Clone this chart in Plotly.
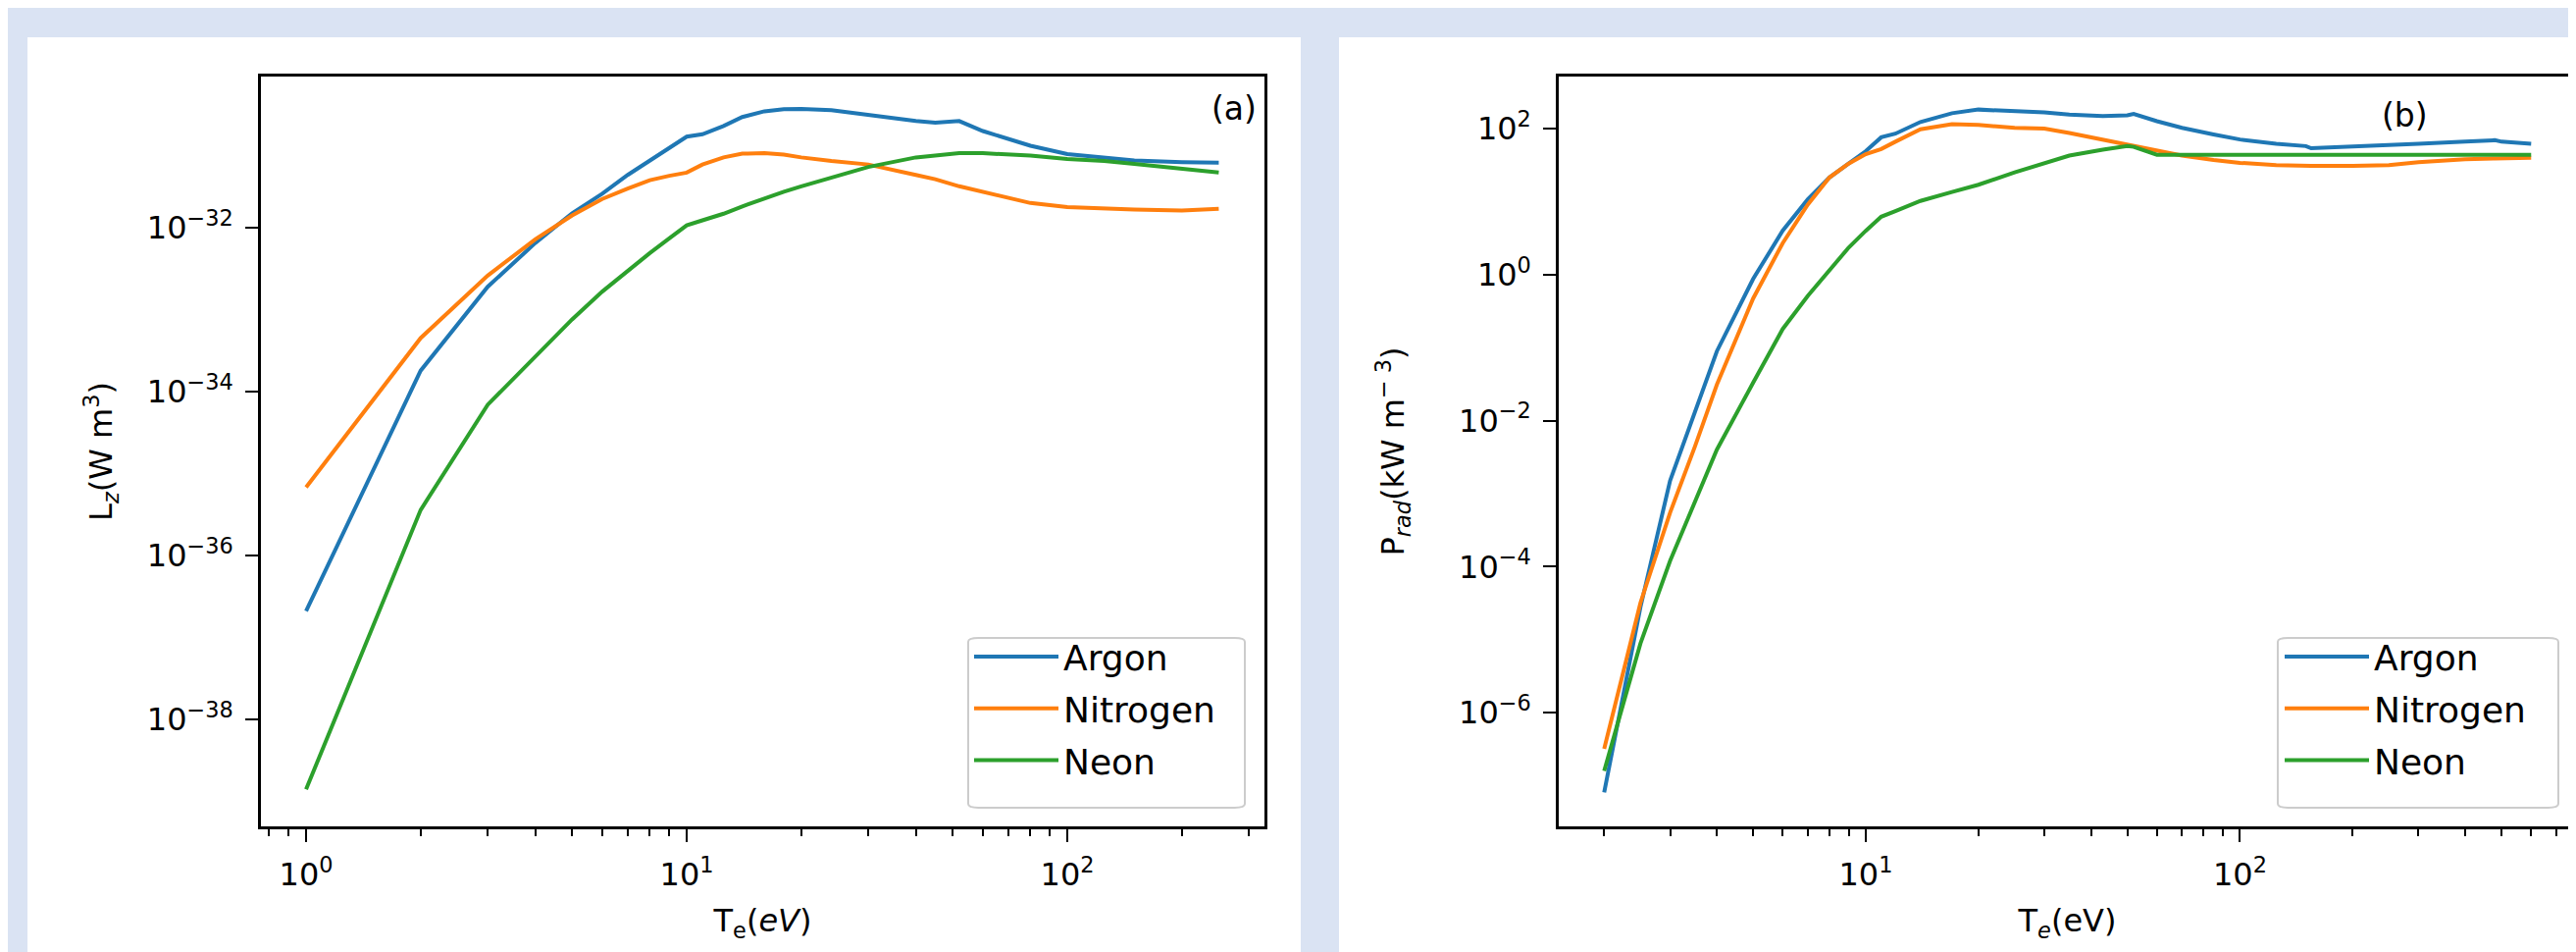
import plotly.graph_objects as go

# ---------------- data ----------------
te_a = [1, 2, 3, 4, 5, 6, 7, 8, 9, 10, 11, 12.5, 14, 16, 18, 20, 24, 30, 40, 45, 52,
        60, 70, 80, 100, 125, 150, 200, 250]
lz_argon = [2.1e-37, 1.8e-34, 1.9e-33, 6.5e-33, 1.5e-32, 2.6e-32, 4.4e-32, 6.6e-32, 9.3e-32,
            1.29e-31, 1.38e-31, 1.74e-31, 2.24e-31, 2.63e-31, 2.79e-31, 2.82e-31, 2.72e-31,
            2.37e-31, 2.0e-31, 1.91e-31, 2.0e-31, 1.51e-31, 1.2e-31, 1.0e-31, 7.9e-32,
            7.1e-32, 6.6e-32, 6.3e-32, 6.2e-32]
lz_nitrogen = [6.8e-36, 4.5e-34, 2.6e-33, 7.2e-33, 1.41e-32, 2.24e-32, 3.0e-32, 3.8e-32,
               4.3e-32, 4.7e-32, 5.9e-32, 7.2e-32, 8.0e-32, 8.1e-32, 7.8e-32, 7.2e-32,
               6.5e-32, 5.9e-32, 4.4e-32, 3.9e-32, 3.2e-32, 2.75e-32, 2.3e-32, 2.0e-32,
               1.78e-32, 1.7e-32, 1.66e-32, 1.62e-32, 1.7e-32]
lz_neon = [1.4e-39, 3.6e-36, 6.9e-35, 2.7e-34, 7.6e-34, 1.66e-33, 3.0e-33, 4.9e-33, 7.4e-33,
           1.07e-32, 1.23e-32, 1.48e-32, 1.82e-32, 2.29e-32, 2.75e-32, 3.2e-32, 4.1e-32,
           5.5e-32, 7.2e-32, 7.6e-32, 8.1e-32, 8.1e-32, 7.9e-32, 7.6e-32, 6.9e-32,
           6.5e-32, 6.0e-32, 5.2e-32, 4.7e-32]

te_b = [2, 2.5, 3, 3.5, 4, 5, 6, 7, 8, 9, 10, 11, 12, 14, 17, 20, 25, 30, 35, 43, 50, 52,
        60, 70, 85, 100, 125, 150, 155, 200, 250, 300, 400, 480, 500, 600]
prad_argon = [8.1e-08, 2.8e-05, 1.5e-03, 1.4e-02, 8.9e-02, 0.87, 4.0, 10.7, 21.4, 33.1,
              49.0, 75.9, 85.1, 123.0, 162.2, 182.0, 175.8, 166.0, 154.9, 147.9, 151.4,
              158.5, 125.9, 102.3, 83.2, 70.8, 61.7, 57.5, 53.7, 56.2, 58.9, 61.7, 66.1,
              69.2, 66.1, 61.7]
prad_nitrogen = [3.2e-07, 3.2e-05, 5.5e-04, 4.5e-03, 3.1e-02, 0.47, 2.7, 9.1, 21.4, 33.1,
                 44.7, 52.5, 66.1, 97.7, 114.8, 112.2, 102.3, 100.0, 87.1, 70.8, 61.7,
                 58.9, 50.1, 42.7, 37.2, 33.9, 31.6, 30.9, 30.9, 30.9, 31.6, 34.7, 38.0,
                 38.9, 38.9, 39.8]
prad_neon = [1.6e-07, 8.9e-06, 1.2e-04, 7.9e-04, 4.0e-03, 3.3e-02, 0.18, 0.51, 1.17, 2.34,
             3.98, 6.2, 7.4, 10.2, 13.5, 17.0, 25.1, 33.9, 42.7, 51.3, 57.5, 56.2,
             43.7, 43.7, 43.7, 43.7, 43.7, 43.7, 43.7, 43.7, 43.7, 43.7, 43.7, 43.7,
             43.7, 43.7]

series_names = ["Argon", "Nitrogen", "Neon"]
series_colors = ["#1f77b4", "#ff7f0e", "#2ca02c"]

xa_ticks = [1, 10, 100]
xa_ticktext = ["10<sup>0</sup>", "10<sup>1</sup>", "10<sup>2</sup>"]
xa_minor = [0.8, 0.9, 2, 3, 4, 5, 6, 7, 8, 9, 20, 30, 40, 50, 60, 70, 80, 90, 200, 300]
ya_ticks = [1e-38, 1e-36, 1e-34, 1e-32]
ya_ticktext = ["10<sup>\u221238</sup>", "10<sup>\u221236</sup>", "10<sup>\u221234</sup>",
               "10<sup>\u221232</sup>"]
xb_ticks = [10, 100]
xb_ticktext = ["10<sup>1</sup>", "10<sup>2</sup>"]
xb_minor = [2, 3, 4, 5, 6, 7, 8, 9, 20, 30, 40, 50, 60, 70, 80, 90, 200, 300, 400, 500,
            600, 700]
yb_ticks = [1e-6, 1e-4, 1e-2, 1, 100]
yb_ticktext = ["10<sup>\u22126</sup>", "10<sup>\u22124</sup>", "10<sup>\u22122</sup>",
               "10<sup>0</sup>", "10<sup>2</sup>"]

# ---------------- figure ----------------
W, H = 2626, 970
FONT = "DejaVu Sans"
FS = 32
LFS = 36


def px_x(v):
    return v / W


def px_y(v):
    return 1 - v / H


fig = go.Figure()

for name, color, ya in zip(series_names, series_colors, [lz_argon, lz_nitrogen, lz_neon]):
    fig.add_trace(go.Scatter(x=te_a, y=ya, mode="lines", name=name,
                             line=dict(color=color, width=4),
                             xaxis="x", yaxis="y", legend="legend", legendgroup="a" + name))
for name, color, yb in zip(series_names, series_colors, [prad_argon, prad_nitrogen, prad_neon]):
    fig.add_trace(go.Scatter(x=te_b, y=yb, mode="lines", name=name,
                             line=dict(color=color, width=4),
                             xaxis="x2", yaxis="y2", legend="legend2", legendgroup="b" + name))

common_axis = dict(type="log", showgrid=False, zeroline=False, showline=True, mirror=True,
                   linecolor="black", linewidth=2.5, ticks="outside", ticklen=13,
                   tickwidth=2.2, tickcolor="black",
                   tickfont=dict(family=FONT, size=FS, color="black"),
                   ticklabelstandoff=6)

minor_style = dict(ticks="outside", ticklen=7, tickwidth=1.8, tickcolor="black", showgrid=False)

legend_style = dict(xanchor="left", yanchor="top", bgcolor="rgba(0,0,0,0)", borderwidth=0,
                    font=dict(family=FONT, size=LFS, color="black"),
                    tracegroupgap=3, itemwidth=86)

fig.update_layout(
    width=W, height=H, autosize=False,
    margin=dict(l=0, r=0, t=0, b=0),
    paper_bgcolor="#dae3f3",
    plot_bgcolor="white",
    font=dict(family=FONT, size=FS, color="black"),
    xaxis=dict(common_axis, domain=[px_x(258), px_x(1281)], anchor="y",
               range=[-0.1186, 2.518], tickmode="array", tickvals=xa_ticks,
               ticktext=xa_ticktext,
               minor=dict(minor_style, tickmode="array", tickvals=xa_minor),
               title=dict(text="T<sub>e</sub>(<i>eV</i>)", font=dict(size=FS), standoff=18)),
    yaxis=dict(common_axis, domain=[px_y(834), px_y(70)], anchor="x",
               range=[-39.305, -30.156], tickmode="array", tickvals=ya_ticks,
               ticktext=ya_ticktext,
               title=dict(text="L<sub><i>z</i></sub>(W m<sup>3</sup>)", font=dict(size=FS),
                          standoff=26)),
    xaxis2=dict(common_axis, domain=[px_x(1581), px_x(2618)], anchor="y2",
                range=[0.1796, 2.898], tickmode="array", tickvals=xb_ticks,
                ticktext=xb_ticktext,
                minor=dict(minor_style, tickmode="array", tickvals=xb_minor),
                title=dict(text="T<sub><i>e</i></sub>(eV)", font=dict(size=FS), standoff=18)),
    yaxis2=dict(common_axis, domain=[px_y(834), px_y(70)], anchor="x2",
                range=[-7.556, 2.712], tickmode="array", tickvals=yb_ticks,
                ticktext=yb_ticktext,
                title=dict(text="P<sub><i>rad</i></sub>(kW m<sup>\u2212 3</sup>)",
                           font=dict(size=FS), standoff=46)),
    legend=dict(legend_style, x=px_x(980), y=px_y(631)),
    legend2=dict(legend_style, x=px_x(2316), y=px_y(631)),
    showlegend=True,
)


def rounded_rect(x0, y0, x1, y1, r):
    return (f"M {x0 + r},{y0} L {x1 - r},{y0} Q {x1},{y0} {x1},{y0 + r} "
            f"L {x1},{y1 - r} Q {x1},{y1} {x1 - r},{y1} L {x0 + r},{y1} "
            f"Q {x0},{y1} {x0},{y1 - r} L {x0},{y0 + r} Q {x0},{y0} {x0 + r},{y0} Z")


shapes = [
    dict(type="rect", xref="paper", yref="paper", x0=px_x(20), x1=px_x(1318),
         y0=0, y1=px_y(30), fillcolor="white", line=dict(width=0), layer="below"),
    dict(type="rect", xref="paper", yref="paper", x0=px_x(1357), x1=1,
         y0=0, y1=px_y(30), fillcolor="white", line=dict(width=0), layer="below"),
]
for (lx0, lx1) in [(979, 1261), (2314, 2600)]:
    shapes.append(dict(type="path", xref="paper", yref="paper",
                       path=rounded_rect(px_x(lx0), px_y(815), px_x(lx1), px_y(642), 0.004),
                       fillcolor="rgba(255,255,255,0.8)",
                       line=dict(color="#cccccc", width=2), layer="above"))
fig.update_layout(shapes=shapes)

fig.add_annotation(text="(a)", x=px_x(1250), y=px_y(103), xref="paper", yref="paper",
                   showarrow=False, font=dict(family=FONT, size=33, color="black"),
                   xanchor="center", yanchor="middle")
fig.add_annotation(text="(b)", x=px_x(2443), y=px_y(109), xref="paper", yref="paper",
                   showarrow=False, font=dict(family=FONT, size=33, color="black"),
                   xanchor="center", yanchor="middle")

fig.write_html("out.html")
